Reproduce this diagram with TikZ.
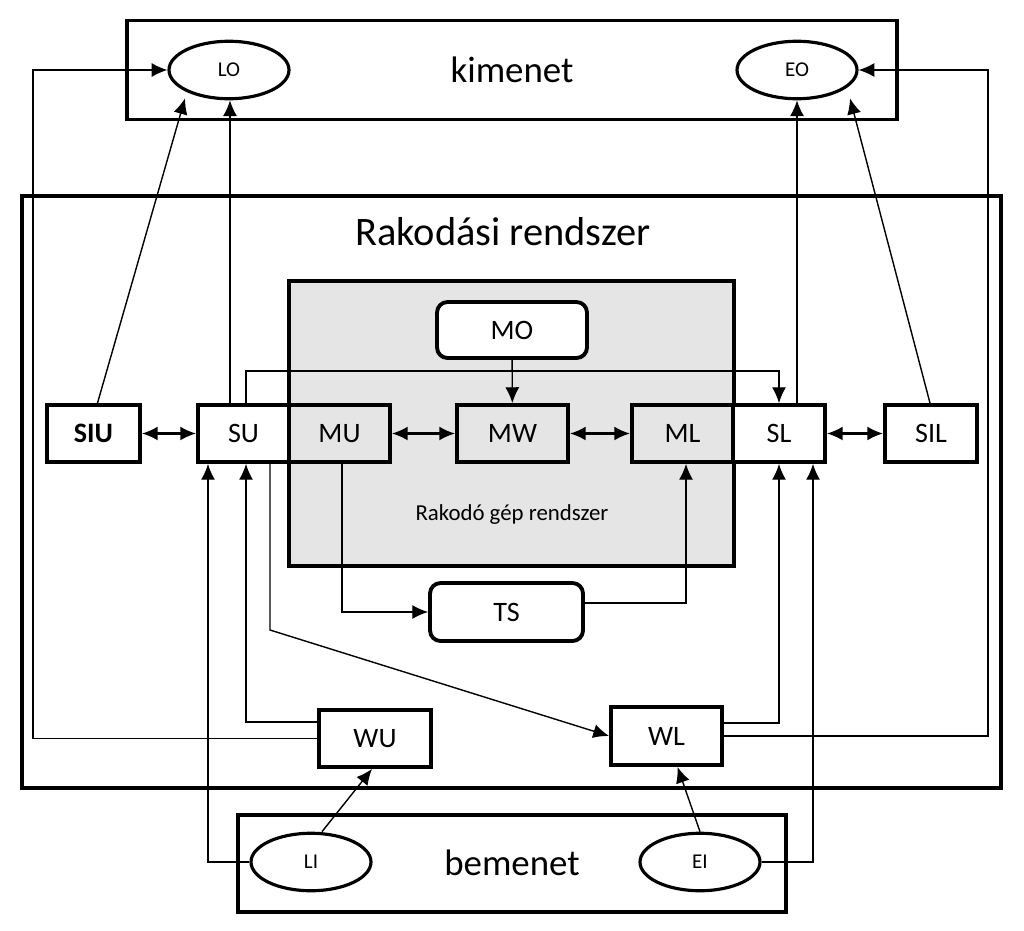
\documentclass[tikz,border=0pt]{standalone}
\usepackage{fontspec}
\setmainfont{Carlito}
\usetikzlibrary{arrows.meta, positioning, calc, shapes.geometric}

\begin{document}
\begin{tikzpicture}[
    x=0.02cm, y=-0.02cm,
    frame/.style={draw, line width=2pt},
    blk/.style={rectangle, draw, line width=2.2pt, inner sep=0pt, font=\fontsize{16}{16}\selectfont},
    rblk/.style={blk, rounded corners=6pt},
    port/.style={ellipse, draw, line width=1.8pt, inner sep=0pt, minimum width=2.4cm, minimum height=1.15cm, font=\fontsize{12}{12}\selectfont},
    conn/.style={line width=0.8pt, -{Latex[length=9pt,width=8pt]}},
    both/.style={line width=1.2pt, {Latex[length=9pt,width=8pt]}-{Latex[length=9pt,width=8pt]}},
]
    \useasboundingbox (0,0) rectangle (1024,930);

    % frames
    \node[frame, minimum width=15.4cm, minimum height=1.98cm] (out) at (512,70) {};
    \node[font=\fontsize{21}{21}\selectfont] at (512,70) {kimenet};
    \node[frame, minimum width=19.58cm, minimum height=11.84cm] (sys) at (511.5,492) {};
    \node[font=\fontsize{23}{23}\selectfont] (sysl) at (503,232) {Rakodási rendszer};
    \node[frame, fill=gray!20, minimum width=8.9cm, minimum height=5.7cm] (mach) at (511.5,423.5) {};
    \node[font=\fontsize{13}{13}\selectfont] (machl) at (512,515) {Rakodó gép rendszer};
    \node[frame, minimum width=10.96cm, minimum height=1.94cm] (in) at (512,863.5) {};
    \node[font=\fontsize{21}{21}\selectfont] at (512,863) {bemenet};

    % ports
    \node[port, fill=white] (LO) at (229,70) {LO};
    \node[port, fill=white] (EO) at (797,70) {EO};
    \node[port, fill=white] (LI) at (311,862) {LI};
    \node[port, fill=white] (EI) at (700,862) {EI};

    % blocks
    \node[rblk, fill=white, minimum width=3cm, minimum height=1.12cm] (MO) at (512,330) {MO};
    \node[blk, fill=gray!20, minimum width=2.22cm, minimum height=1.14cm] (MW) at (512.5,433.5) {MW};
    \node[blk, fill=white, minimum width=1.82cm, minimum height=1.14cm] (SU) at (243.5,433.5) {SU};
    \node[blk, fill=gray!20, minimum width=2.02cm, minimum height=1.14cm] (MU) at (339.5,433.5) {MU};
    \node[blk, fill=gray!20, minimum width=2.02cm, minimum height=1.14cm] (ML) at (682.5,433.5) {ML};
    \node[blk, fill=white, minimum width=1.84cm, minimum height=1.14cm] (SL) at (779,433.5) {SL};
    \node[blk, fill=white, minimum width=1.86cm, minimum height=1.14cm, font=\fontsize{16}{16}\bfseries] (SIU) at (93.5,433.5) {SIU};
    \node[blk, fill=white, minimum width=1.84cm, minimum height=1.14cm] (SIL) at (931,433.5) {SIL};
    \node[rblk, fill=white, minimum width=3.06cm, minimum height=1.16cm] (TS) at (506.5,612) {TS};
    \node[blk, fill=white, minimum width=2.24cm, minimum height=1.14cm] (WU) at (375,738.5) {WU};
    \node[blk, fill=white, minimum width=2.22cm, minimum height=1.16cm] (WL) at (666.5,736) {WL};

    % columns
    \coordinate (cA) at (33,0);
    \coordinate (cB) at (208,0);
    \coordinate (cC) at (230,0);
    \coordinate (cD) at (246,0);
    \coordinate (cE) at (270,0);
    \coordinate (cF) at (342,0);
    \coordinate (cG) at (686,0);
    \coordinate (cH) at (779,0);
    \coordinate (cI) at (797,0);
    \coordinate (cJ) at (813,0);
    \coordinate (cK) at (988,0);

    % connectors
    \draw[both] (SIU) -- (SU);
    \draw[both] (MU) -- (MW);
    \draw[both] (MW) -- (ML);
    \draw[both] (SL) -- (SIL);
    \draw[conn] (MO) -- (MW);
    \draw[conn] ($(SIU.north)+(4,0)$) -- ($(LO.south)+(-44,-2)$);
    \draw[conn] (SU.north -| cC) -- (LO.south -| cC);
    \draw[conn] (SU.north -| cD) |- (512,371) -| (SL.north);
    \draw[conn] (SL.north -| cI) -- (EO.south -| cI);
    \draw[conn] ($(SIL.north)+(-1,0)$) -- ($(EO.south)+(53,-2)$);
    \draw[conn] ($(WU.west)+(0,0)$) -| (cA |- LO) -- (LO.west);
    \draw[conn] (WL.east) -| (cK |- EO) -- (EO.east);
    \draw[conn] ($(WU.north west)+(0,14)$) -| (SU.south -| cD);
    \draw[conn] (LI.west) -| (SU.south -| cB);
    \draw[conn] (SU.south -| cE) -- (cE |- 0,630) -- (WL.west);
    \draw[conn] (MU.south -| cF) |- (TS.west);
    \draw[conn] ($(TS.east)+(0,-9)$) -| (ML.south -| cG);
    \draw[conn] ($(WL.north east)+(0,18)$) -| (SL.south -| cH);
    \draw[conn] (EI.east) -| (SL.south -| cJ);
    \draw[conn] ($(LI.north)+(11,0)$) -- ($(WU.south)+(-3,0)$);
    \draw[conn] ($(EI.north)+(0,0)$) -- ($(WL.south)+(11,0)$);
\end{tikzpicture}
\end{document}
